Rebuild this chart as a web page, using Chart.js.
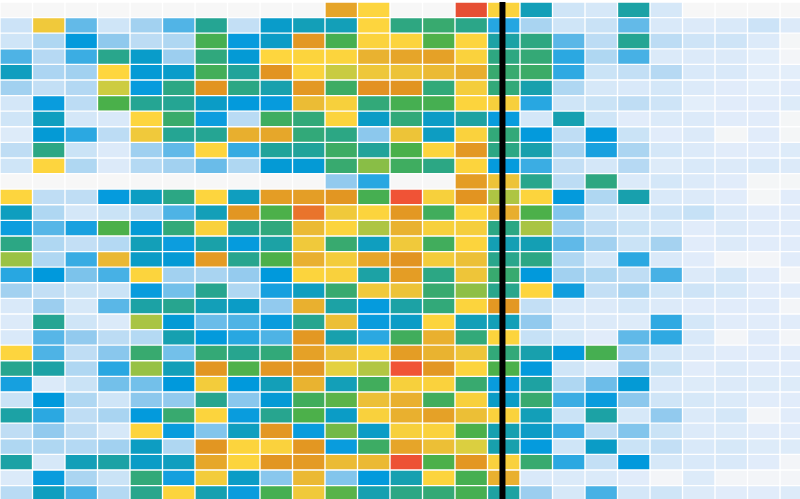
<!DOCTYPE html>
<html>
<head>
<meta charset="utf-8">
<title>Heatmap</title>
<script src="https://cdn.jsdelivr.net/npm/chart.js@4"></script>
<style>
  html, body { margin: 0; padding: 0; background: #ffffff; overflow: hidden; }
  canvas { display: block; }
</style>
</head>
<body>
<canvas id="chart" width="800" height="499"></canvas>
<script>
// one list per row, one value per column, 0 = no data
const row00 = [0,0,0,0,0,0,0,0,0,0,1400,650,0,0,2600,700,370,70,60,375,60,0,0,0,0];
const row01 = [75,950,200,70,110,230,380,85,365,370,370,650,385,390,383,300,105,70,80,200,55,50,55,75,50];
const row02 = [70,100,355,130,90,100,398,350,366,1550,398,700,680,405,650,375,385,215,90,380,90,72,72,50,5];
const row03 = [235,95,265,382,365,115,386,362,620,680,680,1250,1400,1450,720,385,388,290,100,245,52,50,50,38,8];
const row04 = [368,102,110,630,362,365,396,378,1600,700,540,1000,1050,1150,1300,390,392,285,78,85,95,55,55,38,38];
const row05 = [110,85,97,545,350,384,1600,384,373,1550,393,1620,1600,387,850,387,373,100,60,55,62,50,42,38,42];
const row06 = [62,345,90,400,380,380,366,355,350,1130,780,387,398,398,680,800,295,70,78,88,72,38,42,42,48];
const row07 = [70,368,62,55,650,391,340,92,394,387,680,366,387,366,376,345,62,372,70,42,52,50,42,42,6];
const row08 = [48,362,290,90,950,380,380,1280,1380,387,384,135,1040,367,720,387,355,88,352,78,42,50,6,42,6];
const row09 = [88,384,78,50,112,205,650,275,378,378,393,378,400,680,1550,384,373,108,320,103,62,50,42,42,48];
const row10 = [70,650,100,50,96,110,190,100,362,362,390,470,394,384,680,352,265,85,62,95,48,55,50,55,50];
const row11 = [0,0,0,0,0,0,0,0,0,0,125,295,0,0,1500,1050,382,90,385,52,62,50,42,6,6];
const row12 = [650,88,88,352,367,384,650,368,1500,1480,1580,398,2000,780,1600,510,680,355,100,373,55,50,42,6,42];
const row13 = [368,100,62,78,90,235,370,1580,402,1800,950,680,1550,395,680,1300,402,150,70,60,72,82,50,42,42];
const row14 = [340,220,320,402,362,387,750,381,386,1150,680,510,1250,780,830,384,505,112,88,78,62,42,50,42,42];
const row15 = [384,100,85,96,370,340,374,352,375,950,390,368,950,395,680,371,371,205,110,78,108,42,50,42,42];
const row16 = [490,100,270,1180,366,362,1520,381,402,1270,880,1400,1600,880,1080,382,384,100,62,290,55,42,8,8,42];
const row17 = [295,360,160,245,680,110,105,120,360,680,750,375,1500,384,1020,390,358,110,100,88,245,50,62,42,8];
const row18 = [110,85,78,78,345,175,381,100,325,368,390,950,1050,390,475,382,650,335,85,105,70,72,60,42,42];
const row19 = [55,115,60,215,375,381,370,366,125,1270,375,352,375,387,680,1550,85,55,50,62,50,42,42,42,8];
const row20 = [50,380,70,52,505,362,190,235,345,381,1100,345,366,680,370,370,125,55,50,48,285,62,42,42,42];
const row21 = [55,220,125,90,96,372,355,295,235,1550,373,290,395,1270,387,680,82,60,42,205,285,55,8,42,8];
const row22 = [650,235,88,140,390,175,388,381,387,1450,1080,750,1500,1230,1020,387,373,355,398,110,62,50,42,42,42];
const row23 = [381,375,100,295,485,370,1580,405,1560,1560,570,515,2000,1560,680,402,355,70,52,130,78,42,50,42,42];
const row24 = [325,52,78,175,175,360,880,360,370,1230,370,395,780,720,390,345,376,100,185,362,55,48,50,48,48];
const row25 = [78,360,100,70,135,125,381,140,362,395,420,1080,1270,395,780,366,390,265,345,135,70,60,52,42,42];
const row26 = [375,290,88,105,355,390,680,345,381,402,366,750,1270,1450,1100,720,370,78,375,60,125,52,62,8,42];
const row27 = [88,125,88,60,680,345,150,368,1560,345,445,366,780,720,402,372,366,270,88,150,78,50,48,42,42];
const row28 = [100,100,96,110,367,100,1580,680,720,1570,345,393,1400,1100,560,373,352,70,366,78,85,55,60,48,48];
const row29 = [375,60,370,375,366,368,1380,680,1580,1520,1140,1170,2200,402,1560,750,390,290,85,358,60,55,55,42,8];
const row30 = [52,345,103,78,387,330,880,366,140,1170,150,355,372,680,398,1270,55,52,52,42,8,48,8,8,8];
const row31 = [92,368,245,96,382,680,372,345,398,950,415,372,384,388,398,376,115,60,245,62,70,48,42,42,48];

const rows = [row00,row01,row02,row03,row04,row05,row06,row07,row08,row09,row10,row11,row12,row13,row14,row15,
    row16,row17,row18,row19,row20,row21,row22,row23,row24,row25,row26,row27,row28,row29,row30,row31];

// where the black marker sits, in column units
const markerColumn = 15.46;

// colour scale: value -> rgb
const stops = [0, 40, 80, 120, 360, 400, 600, 1000, 1600, 2000, 4000];
const stopColors = [[247,247,247],[226,237,250],[201,226,246],[149,203,238],[0,153,220],[74,176,74],
    [255,215,62],[238,199,58],[226,148,33],[240,83,54],[206,71,46]];

function colorFor(value) {
    let i = 0;
    while (i < stops.length - 2 && value > stops[i + 1]) i++;
    const t = Math.min(1, (value - stops[i]) / (stops[i + 1] - stops[i]));
    const c = stopColors[i].map((v, k) => Math.round(v + (stopColors[i + 1][k] - v) * t));
    return `rgb(${c[0]}, ${c[1]}, ${c[2]})`;
}

const cells = [];
rows.forEach((row, r) => {
    row.forEach((value, c) => {
        cells.push({ x: c + 0.5, y: [r, r + 1], value: value });
    });
});

new Chart(document.getElementById('chart'), {
    data: {
        datasets: [{
            type: 'bar',
            data: cells,
            backgroundColor: ctx => colorFor(ctx.raw.value),
            borderColor: '#ffffff',
            borderWidth: 1,
            borderSkipped: false,
            barPercentage: 1,
            categoryPercentage: 1
        }, {
            type: 'line',
            data: [{ x: markerColumn, y: 0 }, { x: markerColumn, y: 32 }],
            borderColor: '#000000',
            borderWidth: 6,
            pointRadius: 0,
            order: -1
        }]
    },
    options: {
        responsive: false,
        animation: false,
        layout: { padding: 0 },
        plugins: {
            legend: { display: false },
            tooltip: { enabled: false }
        },
        scales: {
            x: { type: 'linear', display: false, offset: false, min: 0, max: 24.615 },
            y: { type: 'linear', display: false, reverse: true, min: -0.128, max: 31.86 }
        }
    }
});
</script>
</body>
</html>
